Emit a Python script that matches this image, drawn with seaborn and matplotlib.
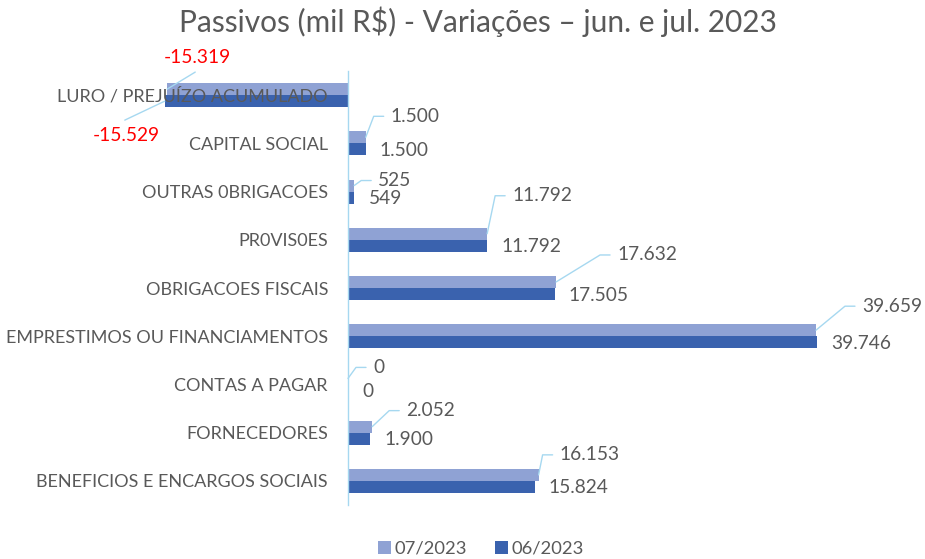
import matplotlib
matplotlib.use("Agg")
import matplotlib.pyplot as plt
import seaborn as sns
import pandas as pd
from matplotlib.patches import Patch

contas = ["LURO / PREJUÍZO ACUMULADO", "CAPITAL SOCIAL", "OUTRAS 0BRIGACOES", "PR0VIS0ES",
          "OBRIGACOES FISCAIS", "EMPRESTIMOS OU FINANCIAMENTOS", "CONTAS A PAGAR",
          "FORNECEDORES", "BENEFICIOS E ENCARGOS SOCIAIS"]
jul_2023 = [-15319, 1500, 525, 11792, 17632, 39659, 0, 2052, 16153]
jun_2023 = [-15529, 1500, 549, 11792, 17505, 39746, 0, 1900, 15824]
meses = ["07/2023", "06/2023"]
cores = ["#8FA2D4", "#3A62AE"]

# label offsets in pixels (dx right, dy down) from the bar end
off_jul = [(-3, -32), (25, -21), (24, -5), (25, -38), (61, -27), (46, -24), (25, -11), (34, -16), (21, -20)]
off_jun = (14, 1)
linha = "#A6D8F0"
cinza = "#595959"
fs_val = 13.8

df = pd.DataFrame({"conta": contas * 2,
                   "valor": jul_2023 + jun_2023,
                   "mes": [meses[0]] * len(contas) + [meses[1]] * len(contas)})

sns.set_style("white")
plt.rcParams["font.family"] = ["Lato", "DejaVu Sans"]

fig = plt.figure(figsize=(9.25, 5.59), dpi=100)
ax = fig.add_axes([112 / 925, 54 / 559, 767 / 925, 434 / 559])
sns.barplot(data=df, x="valor", y="conta", hue="mes", hue_order=meses, order=contas,
            palette=cores, width=0.5, orient="h", linewidth=0, saturation=1,
            legend=False, ax=ax)
ax.set_xlim(-20000, 45000)
ax.set_ylim(len(contas) - 0.5, -0.5)

for s in ["top", "right", "bottom"]:
    ax.spines[s].set_visible(False)
ax.spines["left"].set_position(("data", 0))
ax.spines["left"].set_color(linha)
ax.spines["left"].set_linewidth(1)
ax.yaxis.set_zorder(5)
ax.set_xticks([])
ax.set_xlabel("")
ax.set_ylabel("")
ax.tick_params(axis="y", length=0, pad=14.4, labelsize=13, labelcolor=cinza)

# pixel -> data scale
sx = 65000 / 767
sy = len(contas) / 434


def fmt(v):
    return f"{v:,.0f}".replace(",", ".")


for i, bar in enumerate(ax.containers[0]):
    v = jul_2023[i]
    xe = bar.get_x() + bar.get_width()
    yc = bar.get_y() + bar.get_height() / 2
    dx, dy = off_jul[i]
    tx, ty = xe + dx * sx, yc + dy * sy
    if v < 0:
        ax.text(tx, ty, fmt(v), ha="left", va="center", fontsize=fs_val, color="red")
        ax.plot([xe, xe + 28 * sx], [yc, yc - 17 * sy], color=linha, lw=1, clip_on=False, zorder=6)
    else:
        ax.text(tx, ty, fmt(v), ha="left", va="center", fontsize=fs_val, color=cinza)
        ax.plot([xe, tx - 17 * sx, tx - 7 * sx], [yc, ty, ty], color=linha, lw=1, clip_on=False)

for i, bar in enumerate(ax.containers[1]):
    v = jun_2023[i]
    xe = bar.get_x() + bar.get_width()
    yc = bar.get_y() + bar.get_height() / 2
    if v < 0:
        ax.text(xe - 72 * sx, yc + 34 * sy, fmt(v), ha="left", va="center", fontsize=fs_val, color="red")
        ax.plot([xe, xe - 40 * sx], [yc, yc + 19 * sy], color=linha, lw=1, clip_on=False, zorder=6)
    else:
        ax.text(xe + off_jun[0] * sx, yc + off_jun[1] * sy, fmt(v), ha="left", va="center",
                fontsize=fs_val, color=cinza)

fig.text(0.517, 1 - 22 / 559, "Passivos (mil R$) - Variações – jun. e jul. 2023",
         ha="center", va="center", fontsize=21.5, color=cinza)

handles = [Patch(facecolor=c, edgecolor="none") for c in cores]
fig.legend(handles, meses, loc="center", bbox_to_anchor=(0.52, 0.018), ncol=2, frameon=False,
           fontsize=13.2, labelcolor=cinza, handlelength=0.7, handleheight=0.7,
           handletextpad=0.2, columnspacing=1.5)

fig.savefig("out.png", dpi=100)
